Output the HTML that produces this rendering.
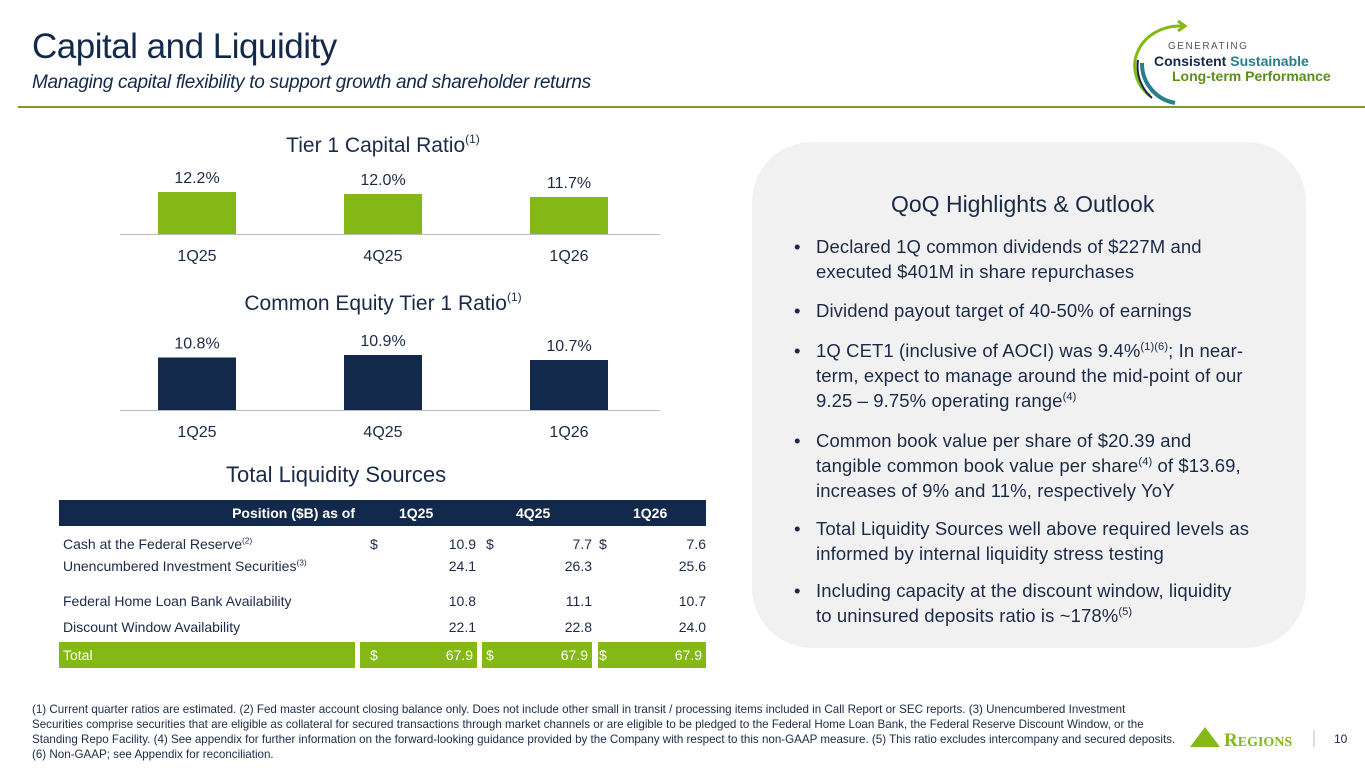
<!DOCTYPE html>
<html><head><meta charset="utf-8">
<style>
body{margin:0;width:1365px;height:768px;overflow:hidden;background:#fff;font-family:"Liberation Sans",sans-serif;color:#1b2a47;position:relative}
.a{position:absolute;white-space:nowrap}
sup{font-size:60%;vertical-align:super;line-height:0}
.bl{position:absolute;font-size:18.5px;color:#1b2a47;line-height:25px;letter-spacing:0.1px}
.bl:before{content:"•";position:absolute;left:-22px}
</style></head><body>
<div class="a" style="left:32px;top:27px;font-size:35px;color:#13294b;letter-spacing:-0.5px">Capital and Liquidity</div>
<div class="a" style="left:32px;top:72px;font-size:19px;font-style:italic;color:#13294b;letter-spacing:-0.3px">Managing capital flexibility to support growth and shareholder returns</div>
<div class="a" style="left:18px;top:106px;width:1347px;height:2px;background:#7a9a3a"></div>

<svg class="a" style="left:1130px;top:18px" width="235" height="90">
<path d="M52 8 A45 40 0 0 0 20 78" fill="none" stroke="#84b817" stroke-width="3"/>
<path d="M48 3 L55 8 L48 13" fill="none" stroke="#84b817" stroke-width="3"/>
<path d="M12 45 A40 40 0 0 0 45 85" fill="none" stroke="#2a7d8c" stroke-width="4"/>
<path d="M8 42 A42 42 0 0 0 22 80" fill="none" stroke="#13294b" stroke-width="2"/>
<text x="38" y="31" font-size="10" letter-spacing="1.5" fill="#555" font-family="Liberation Sans">GENERATING</text>
<text x="24" y="48" font-size="14" font-weight="bold" fill="#13294b" font-family="Liberation Sans">Consistent <tspan fill="#2a7d8c">Sustainable</tspan></text>
<text x="42" y="63" font-size="14" font-weight="bold" fill="#5a8f1a" font-family="Liberation Sans">Long-term Performance</text>
</svg>

<svg class="a" id="charts" style="left:0;top:0" width="720" height="460"></svg>

<div class="a" style="left:226px;top:462px;font-size:22px;color:#1b2a47">Total Liquidity Sources</div>
<div class="a" style="left:59px;top:500px;width:647px;font-size:14px">
<div style="position:absolute;left:0;top:0;width:647px;height:26px;background:#13294b;color:#fff;font-weight:bold">
<span class="a" style="right:351px;top:5px">Position ($B) as of</span>
<span class="a" style="left:340px;top:5px">1Q25</span>
<span class="a" style="left:457px;top:5px">4Q25</span>
<span class="a" style="left:574px;top:5px">1Q26</span></div>
<div id="rows"></div>
</div>

<div class="a" style="left:752px;top:142px;width:554px;height:506px;background:#f1f1f1;border-radius:60px"></div>
<div class="a" style="left:891px;top:191px;font-size:23px">QoQ Highlights &amp; Outlook</div>
<div class="bl" style="left:816px;top:234px">Declared 1Q common dividends of $227M and<br>executed $401M in share repurchases</div>
<div class="bl" style="left:816px;top:298px">Dividend payout target of 40-50% of earnings</div>
<div class="bl" style="left:816px;top:338px">1Q CET1 (inclusive of AOCI) was 9.4%<sup>(1)(6)</sup>; In near-<br>term, expect to manage around the mid-point of our<br>9.25 – 9.75% operating range<sup>(4)</sup></div>
<div class="bl" style="left:816px;top:428px">Common book value per share of $20.39 and<br>tangible common book value per share<sup>(4)</sup> of $13.69,<br>increases of 9% and 11%, respectively YoY</div>
<div class="bl" style="left:816px;top:516px">Total Liquidity Sources well above required levels as<br>informed by internal liquidity stress testing</div>
<div class="bl" style="left:816px;top:578px">Including capacity at the discount window, liquidity<br>to uninsured deposits ratio is ~178%<sup>(5)</sup></div>

<div class="a" style="left:32px;top:702px;font-size:11.6px;line-height:15px;color:#1b2a47;white-space:normal;width:1145px">(1) Current quarter ratios are estimated. (2) Fed master account closing balance only. Does not include other small in transit / processing items included in Call Report or SEC reports. (3) Unencumbered Investment Securities comprise securities that are eligible as collateral for secured transactions through market channels or are eligible to be pledged to the Federal Home Loan Bank, the Federal Reserve Discount Window, or the Standing Repo Facility. (4) See appendix for further information on the forward-looking guidance provided by the Company with respect to this non-GAAP measure. (5) This ratio excludes intercompany and secured deposits. (6) Non-GAAP; see Appendix for reconciliation.</div>
<svg class="a" style="left:1186px;top:725px" width="130" height="26">
<path d="M4 22 L19 2 L34 22 Z" fill="#84b817"/>
<text x="38" y="21" font-family="Liberation Serif" font-size="19" font-weight="bold" fill="#84b817">R<tspan font-size="14">EGIONS</tspan></text>
<line x1="128" y1="5" x2="128" y2="22" stroke="#bbb"/>
</svg>
<div class="a" style="left:1334px;top:732px;font-size:12px">10</div>

<script>
const cats=["1Q25","4Q25","1Q26"];
const tier1=[12.2,12.0,11.7];
const cet1=[10.8,10.9,10.7];
const liqLabels=["Cash at the Federal Reserve<sup>(2)</sup>","Unencumbered Investment Securities<sup>(3)</sup>","Federal Home Loan Bank Availability","Discount Window Availability"];
const liq1Q25=[10.9,24.1,10.8,22.1];
const liq4Q25=[7.7,26.3,11.1,22.8];
const liq1Q26=[7.6,25.6,10.7,24.0];
const totals=[67.9,67.9,67.9];
const NS="http://www.w3.org/2000/svg";
const svg=document.getElementById('charts');
function mk(t,a){const e=document.createElementNS(NS,t);for(const k in a)e.setAttribute(k,a[k]);svg.appendChild(e);return e;}
function chart(title,vals,base,ppu,color,titleY,baseY,nm){
  const tt=mk('text',{x:383,y:titleY,'text-anchor':'middle','font-size':21,fill:'#1b2a47','font-family':'Liberation Sans'});
  tt.innerHTML=title+'<tspan font-size="12" dy="-9">(1)</tspan>';
  
  
  const xs=i=>197+i*186;
  vals.forEach((v,i)=>{
    const h=(v-base)*ppu;
    const r=mk('rect',{x:xs(i)-39,y:baseY-h,width:78,height:h,fill:color});
    
    
    const l=mk('text',{x:xs(i),y:baseY-h-9,'text-anchor':'middle','font-size':16,fill:'#1b2a47','font-family':'Liberation Sans'});
    l.textContent=v.toFixed(1)+'%';
    
    
    const c=mk('text',{x:xs(i),y:baseY+27,'text-anchor':'middle','font-size':16,fill:'#1b2a47','font-family':'Liberation Sans'});
    c.textContent=cats[i];
    
    
  });
  const ax=mk('line',{x1:120,x2:660,y1:baseY+0.5,y2:baseY+0.5,stroke:'#bbb'});
  
  
}
chart('Tier 1 Capital Ratio',tier1,8,10,'#84b817',152,234,'tier1');
chart('Common Equity Tier 1 Ratio',cet1,8.7,25,'#13294b',310,410,'cet1');
const rows=document.getElementById('rows');
const rowY=[36,58,93,119];
const colR=[417,533,647],colD=[311,427,540];
function fmt(v){return v.toFixed(1);}
const cols=[liq1Q25,liq4Q25,liq1Q26];
let h='';
liqLabels.forEach((lb,i)=>{
  h+=`<div class="a" style="left:4px;top:${rowY[i]}px">${lb}</div>`;
  cols.forEach((c,j)=>{
    if(i==0)h+=`<div class="a" style="left:${colD[j]}px;top:${rowY[i]}px">$</div>`;
    h+=`<div class="a" style="right:${647-colR[j]}px;top:${rowY[i]}px">${fmt(c[i])}</div>`;
  });
});
h+=`<div class="a" style="left:0;top:142px;width:296px;height:26px;background:#84b817;color:#fff"><span style="position:absolute;left:4px;top:5px">Total</span></div>`;
const cx=[301,423,539],cw=[117,110,108];
totals.forEach((t,j)=>{
  h+=`<div class="a" style="left:${cx[j]}px;top:142px;width:${cw[j]}px;height:26px;background:#84b817;color:#fff"><span style="position:absolute;left:${colD[j]-cx[j]}px;top:5px">$</span><span style="position:absolute;right:4px;top:5px">${fmt(t)}</span></div>`;
});
rows.innerHTML=h;
</script>
</body></html>
